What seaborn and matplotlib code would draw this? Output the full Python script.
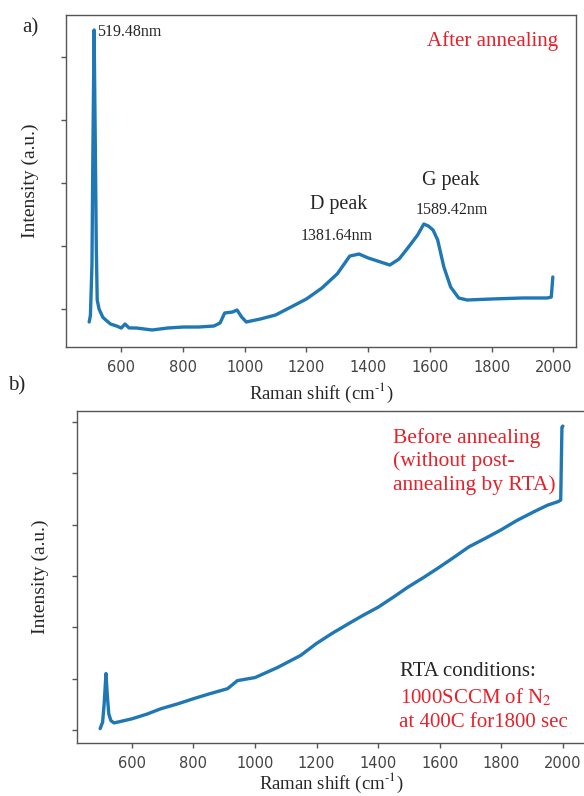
"""Raman spectra before and after RTA annealing."""

import matplotlib
matplotlib.use("Agg")
import matplotlib.pyplot as plt
from matplotlib.ticker import MultipleLocator
import seaborn as sns

sns.set_style("ticks")
plt.rcParams["font.family"] = ["Liberation Serif", "DejaVu Serif"]
plt.rcParams["mathtext.fontset"] = "stix"

# a) after annealing
a_shift = [496, 500, 505, 508, 512, 516, 519, 522, 528, 540, 550, 565, 585, 600, 612, 625,
           650, 700, 750, 800, 850, 900, 920, 935, 960, 975, 990, 1005, 1020, 1050, 1100,
           1150, 1200, 1250, 1300, 1340, 1370, 1400, 1440, 1470, 1500, 1530, 1560, 1580,
           1595, 1610, 1625, 1645, 1667, 1693, 1720, 1800, 1900, 1980, 1993, 1998]
a_intensity = [794, 900, 1700, 3500, 5429, 3500, 2000, 1143, 1000, 870, 825, 762, 730, 698,
               762, 700, 698, 667, 698, 714, 714, 730, 778, 937, 952, 984, 873, 794, 810, 841,
               905, 1032, 1160, 1333, 1560, 1840, 1873, 1810, 1746, 1698, 1794, 1980, 2175,
               2349, 2317, 2254, 2095, 1667, 1349, 1175, 1143, 1159, 1175, 1175, 1190, 1508]

# b) before annealing
b_shift = [497, 505, 510, 516, 520, 525, 532, 542, 560, 600, 650, 694, 750, 800, 850, 911,
           943, 1000, 1073, 1148, 1200, 1250, 1306, 1350, 1400, 1450, 1497, 1550, 1600, 1650,
           1695, 1750, 1800, 1850, 1907, 1950, 1985, 1993, 1997, 2000]
b_intensity = [1025, 1150, 1500, 2098, 1700, 1314, 1180, 1137, 1160, 1216, 1310, 1412, 1510,
               1608, 1700, 1804, 1961, 2020, 2216, 2451, 2686, 2880, 3078, 3230, 3392, 3590,
               3784, 3980, 4176, 4380, 4569, 4740, 4902, 5080, 5255, 5380, 5451, 5480, 6902,
               6922]

line_color = "#1f77b4"
red = "#e8202a"
spine_color = "#555555"
tick_color = "#444444"

fig = plt.figure(figsize=(5.84, 7.96), dpi=100)
ax_a = fig.add_axes([66 / 584, 1 - 347 / 796, 510 / 584, 332 / 796])
ax_b = fig.add_axes([77 / 584, 1 - 743 / 796, 509 / 584, 332 / 796])

sns.lineplot(x=a_shift, y=a_intensity, ax=ax_a, color=line_color, linewidth=2.4)
sns.lineplot(x=b_shift, y=b_intensity, ax=ax_b, color=line_color, linewidth=2.4)

for ax in (ax_a, ax_b):
    ax.set_xticks([600, 800, 1000, 1200, 1400, 1600, 1800, 2000])
    ax.yaxis.set_major_locator(MultipleLocator(1000))
    ax.set_yticklabels([])
    ax.tick_params(axis="both", length=3.5, width=1, color=spine_color,
                   labelcolor=tick_color, labelsize=10.5, pad=6)
    for lab in ax.get_xticklabels():
        lab.set_family("DejaVu Sans")
    for sp in ax.spines.values():
        sp.set_visible(True)
        sp.set_color(spine_color)
        sp.set_linewidth(1.0)

ax_a.set_xlabel("Raman shift (cm$^{\\text{-}1}$)", fontsize=13.5, labelpad=4)
ax_b.set_xlabel("Raman shift (cm$^{\\text{-}1}$)", fontsize=13.5, labelpad=0)
ax_a.set_ylabel("Intensity (a.u.)", fontsize=14, labelpad=10)
ax_b.set_ylabel("Intensity (a.u.)", fontsize=14, labelpad=11)

ax_a.set_ylim(397, 5667)
ax_b.set_ylim(745, 7216)

# panel a annotations
ax_a.text(0.06, 0.95, "519.48nm", transform=ax_a.transAxes, fontsize=11.5, va="center")
ax_a.text(0.965, 0.922, "After annealing", transform=ax_a.transAxes, fontsize=15,
          color=red, ha="right", va="center")
ax_a.text(0.535, 0.428, "D peak", transform=ax_a.transAxes, fontsize=14.5, ha="center", va="center")
ax_a.text(0.531, 0.335, "1381.64nm", transform=ax_a.transAxes, fontsize=11.5, ha="center", va="center")
ax_a.text(0.755, 0.5, "G peak", transform=ax_a.transAxes, fontsize=14.5, ha="center", va="center")
ax_a.text(0.757, 0.413, "1589.42nm", transform=ax_a.transAxes, fontsize=11.5, ha="center", va="center")

# panel b annotations
ax_b.text(0.62, 0.848, "Before annealing\n(without post-\nannealing by RTA)",
          transform=ax_b.transAxes, fontsize=15.5, color=red, va="center",
          linespacing=1.25)
ax_b.text(0.635, 0.214, "RTA conditions:", transform=ax_b.transAxes, fontsize=15, va="center")
ax_b.text(0.635, 0.136, "1000SCCM of N$_2$", transform=ax_b.transAxes, fontsize=15,
          color=red, va="center")
ax_b.text(0.633, 0.063, "at 400C for1800 sec", transform=ax_b.transAxes, fontsize=15,
          color=red, va="center")

fig.text(30 / 584, 1 - 28 / 796, "a)", fontsize=15, ha="center", va="center")
fig.text(17 / 584, 1 - 386 / 796, "b)", fontsize=15, ha="center", va="center")

fig.savefig("out.png", dpi=100)
